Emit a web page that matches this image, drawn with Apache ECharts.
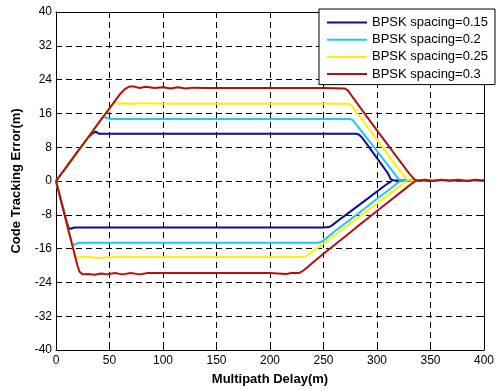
<!DOCTYPE html>
<html>
<head>
<meta charset="utf-8">
<script src="https://cdn.jsdelivr.net/npm/echarts@6/dist/echarts.min.js"></script>
<style>html,body{margin:0;padding:0;background:#fff;}#c{width:497px;height:391px;}</style>
</head>
<body>
<div id="c"></div>
<script>
var seriesNames = ['BPSK spacing=0.15', 'BPSK spacing=0.2', 'BPSK spacing=0.25', 'BPSK spacing=0.3'];
var xTicks = [0, 50, 100, 150, 200, 250, 300, 350, 400];
var yTicks = [-40, -32, -24, -16, -8, 0, 8, 16, 24, 32, 40];

// Upper envelopes (delay m, error m)
var blueUpX = [0, 10, 20, 30, 34, 37, 40, 60, 100, 150, 200, 250, 280, 283, 286, 290, 300, 310, 313, 316, 330, 350, 370, 400];
var blueUpY = [0, 3.4, 6.9, 10.3, 11.2, 11.7, 11.2, 11.2, 11.2, 11.2, 11.2, 11.2, 11.2, 11.0, 10.3, 8.9, 5.4, 1.9, 0.4, 0.1, 0.2, 0.1, 0.2, 0.1];
var cyanUpX = [0, 10, 20, 30, 40, 43, 46, 50, 100, 150, 200, 250, 274, 277, 280, 290, 300, 310, 320, 323, 340, 360, 380, 400];
var cyanUpY = [0, 3.4, 6.9, 10.3, 13.8, 14.9, 15.1, 14.7, 14.7, 14.7, 14.7, 14.7, 14.7, 14.5, 13.6, 10.3, 7.1, 3.8, 0.5, 0.1, 0.2, 0.1, 0.2, 0.1];
var yellowUpX = [0, 10, 20, 30, 40, 50, 53, 56, 60, 66, 72, 80, 100, 150, 200, 250, 272, 275, 278, 290, 300, 310, 320, 328, 331, 345, 360, 375, 390, 400];
var yellowUpY = [0, 3.4, 6.9, 10.3, 13.8, 17.2, 18.2, 18.6, 18.3, 18.4, 18.2, 18.4, 18.3, 18.3, 18.3, 18.3, 18.3, 18.1, 17.3, 13.2, 9.8, 6.3, 2.8, 0.4, 0.1, 0.3, 0.0, 0.3, 0.1, 0.2];
var redUpX = [0, 10, 20, 30, 40, 50, 60, 64, 68, 72, 78, 84, 92, 100, 107, 114, 121, 128, 140, 200, 250, 270, 273, 276, 280, 290, 300, 310, 320, 330, 335, 338, 345, 352, 360, 368, 376, 384, 392, 400];
var redUpY = [0, 3.4, 6.9, 10.3, 13.8, 17.2, 20.6, 21.7, 22.3, 22.4, 22.0, 22.3, 22.0, 22.2, 21.9, 22.2, 21.9, 22.1, 22.0, 22.0, 22.0, 21.9, 21.4, 20.3, 18.9, 15.4, 12.0, 8.6, 5.2, 1.8, 0.4, 0.1, 0.3, 0.0, 0.3, 0.1, 0.3, 0.0, 0.3, 0.1];

// Lower envelopes
var blueLoX = [0, 5, 10, 12, 14, 17, 20, 50, 100, 150, 200, 250, 255, 258, 265, 270, 280, 290, 300, 310, 314];
var blueLoY = [0, -4.8, -9.6, -11.2, -11.3, -11.0, -11.0, -11.0, -11.0, -11.0, -11.0, -11.0, -10.9, -10.5, -9.1, -8.2, -6.3, -4.4, -2.5, -0.6, 0];
var cyanLoX = [0, 5, 10, 15, 17, 20, 25, 50, 100, 150, 200, 245, 248, 252, 260, 270, 280, 290, 300, 310, 320, 322];
var cyanLoY = [0, -5, -10, -14.8, -15.1, -14.7, -14.6, -14.6, -14.6, -14.6, -14.6, -14.6, -14.4, -13.7, -12.0, -10.1, -8.2, -6.2, -4.2, -2.3, -0.3, 0];
var yellowLoX = [0, 5, 10, 15, 18, 20, 23, 30, 40, 50, 100, 150, 200, 230, 233, 236, 240, 250, 260, 270, 280, 290, 300, 310, 320, 328];
var yellowLoY = [0, -5, -10, -15, -17.8, -18.2, -18.0, -18.0, -18.2, -18.0, -18.0, -18.0, -18.0, -18.0, -17.9, -17.4, -16.7, -14.8, -12.9, -11.0, -9.1, -7.2, -5.3, -3.4, -1.5, 0];
var redLoX = [0, 5, 10, 15, 20, 22, 25, 30, 36, 42, 48, 55, 62, 70, 78, 86, 100, 150, 200, 215, 220, 227, 230, 235, 240, 250, 260, 270, 280, 290, 300, 310, 320, 330, 336];
var redLoY = [0, -5, -10, -15, -20, -21.5, -22.1, -22.0, -22.2, -21.9, -22.1, -21.8, -22.1, -21.8, -22.1, -21.8, -21.8, -21.8, -21.8, -22.0, -21.8, -21.8, -21.4, -20.4, -19.3, -17.2, -15.2, -13.2, -11.1, -9.1, -7.1, -5.1, -3.1, -1.1, 0];

var colors = ['#0c0c96', '#1ec8f5', '#fff000', '#b41010'];
var upper = [[blueUpX, blueUpY], [cyanUpX, cyanUpY], [yellowUpX, yellowUpY], [redUpX, redUpY]];
var lower = [[blueLoX, blueLoY], [cyanLoX, cyanLoY], [yellowLoX, yellowLoY], [redLoX, redLoY]];

function zip(xs, ys) { return xs.map(function (x, i) { return [x, ys[i]]; }); }

var series = [];
for (var i = 0; i < 4; i++) {
  [upper[i], lower[i]].forEach(function (p) {
    series.push({
      name: seriesNames[i], type: 'line', data: zip(p[0], p[1]),
      symbol: 'none', smooth: false, color: colors[i],
      lineStyle: { width: 2, color: colors[i] }, z: 3 + i, silent: true
    });
  });
}

var font = '"Liberation Sans", Arial, sans-serif';
var axisLineStyle = { show: true, onZero: false, lineStyle: { color: '#000', width: 1 } };
var chart = echarts.init(document.getElementById('c'), null, { renderer: 'canvas' });
chart.setOption({
  animation: false,
  backgroundColor: '#fff',
  grid: { left: 56, right: 11, top: 12, bottom: 40 },
  legend: {
    data: seriesNames, orient: 'vertical', left: 319, top: 9,
    itemWidth: 40, itemHeight: 14, itemGap: 4.2,
    padding: [7, 7, 4, 8],
    backgroundColor: '#fff', borderColor: '#000', borderWidth: 1, borderRadius: 0,
    textStyle: { fontFamily: font, fontSize: 13, color: '#000' },
    icon: 'path://M0,6 L40,6 L40,8 L0,8 Z'
  },
  xAxis: [{
    type: 'value', min: xTicks[0], max: xTicks[xTicks.length - 1], interval: 50,
    name: 'Multipath Delay(m)', nameLocation: 'middle', nameGap: 23,
    nameTextStyle: { fontFamily: font, fontSize: 13, fontWeight: 'bold', color: '#000' },
    axisLine: axisLineStyle,
    axisTick: { show: true, inside: true, length: 5, lineStyle: { color: '#000' } },
    axisLabel: { fontFamily: font, fontSize: 12, color: '#000', margin: 5 },
    splitLine: { show: true, lineStyle: { color: '#000', type: [6, 4], width: 1 } }
  }, {
    type: 'value', position: 'top', min: 0, max: 400, interval: 50,
    axisLine: axisLineStyle,
    axisTick: { show: true, inside: true, length: 5, lineStyle: { color: '#000' } },
    axisLabel: { show: false }, splitLine: { show: false }
  }],
  yAxis: [{
    type: 'value', min: yTicks[0], max: yTicks[yTicks.length - 1], interval: 8,
    name: 'Code Tracking Error(m)', nameLocation: 'middle', nameGap: 33,
    nameTextStyle: { fontFamily: font, fontSize: 13, fontWeight: 'bold', color: '#000' },
    axisLine: axisLineStyle,
    axisTick: { show: true, inside: true, length: 5, lineStyle: { color: '#000' } },
    axisLabel: { fontFamily: font, fontSize: 12, color: '#000', margin: 4 },
    splitLine: { show: true, lineStyle: { color: '#000', type: [6, 4], width: 1 } }
  }, {
    type: 'value', position: 'right', min: -40, max: 40, interval: 8,
    axisLine: axisLineStyle,
    axisTick: { show: true, inside: true, length: 5, lineStyle: { color: '#000' } },
    axisLabel: { show: false }, splitLine: { show: false }
  }],
  series: series
});
</script>
</body>
</html>
